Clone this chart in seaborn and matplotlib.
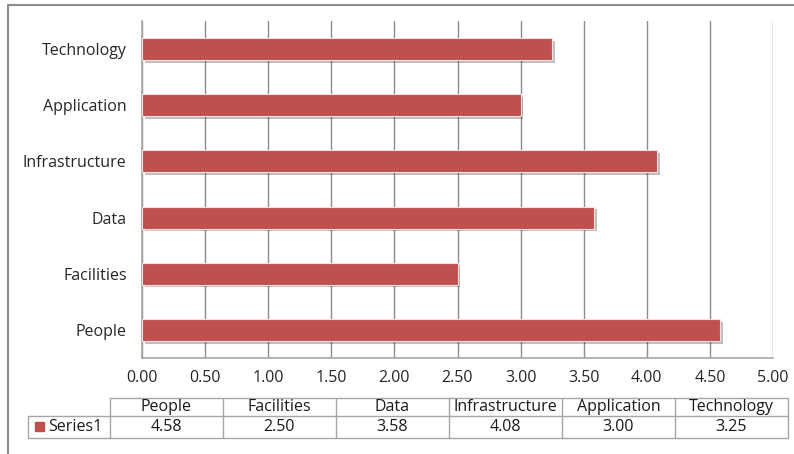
import numpy as np
import pandas as pd
import matplotlib
matplotlib.use("Agg")
import matplotlib.pyplot as plt
import matplotlib.patheffects as pe
from matplotlib.patches import Rectangle
import seaborn as sns

# Chart data
categories = ["People", "Facilities", "Data", "Infrastructure", "Application", "Technology"]
values = [4.58, 2.50, 3.58, 4.08, 3.00, 3.25]
series_name = "Series1"
x_ticks = [0.0, 0.5, 1.0, 1.5, 2.0, 2.5, 3.0, 3.5, 4.0, 4.5, 5.0]

bar_color = "#C0504D"
grid_color = "#8c8c8c"
line_color = "#a6a6a6"
fs = 11.5

sns.set_style("white")
plt.rcParams["font.family"] = ["Open Sans", "DejaVu Sans"]
plt.rcParams["text.color"] = "#1a1a1a"

df = pd.DataFrame({"category": categories, "value": values})
order = categories[::-1]  # Technology on top, People at bottom

W, H = 794, 454
fig = plt.figure(figsize=(W / 100, H / 100), dpi=100)
ax = fig.add_axes([142 / W, 1 - 358 / H, (773 - 142) / W, (358 - 21) / H])

sns.barplot(data=df, x="value", y="category", order=order, color=bar_color,
            saturation=1, width=0.39, edgecolor="#f4e0df", linewidth=0.8, ax=ax)
for bar in ax.patches:
    bar.set_zorder(3)
    bar.set_path_effects([pe.SimplePatchShadow(offset=(2, -2), shadow_rgbFace="black", alpha=0.25),
                          pe.Normal()])

ax.set_xlim(0, 5)
ax.set_ylim(5.5, -0.5)
ax.set_xticks(x_ticks)
ax.set_xticklabels([f"{t:.2f}" for t in x_ticks])
ax.grid(axis="x", color=grid_color, linewidth=1)
ax.set_axisbelow(True)
ax.set_xlabel("")
ax.set_ylabel("")
ax.tick_params(axis="x", length=0, pad=9, labelsize=fs)
ax.tick_params(axis="y", length=0, pad=11, labelsize=fs)
for side in ["top", "right"]:
    ax.spines[side].set_visible(False)
for side in ["left", "bottom"]:
    ax.spines[side].set_color(line_color)
    ax.spines[side].set_linewidth(1.2)

# Data table below the chart, drawn in pixel space
tab = fig.add_axes([0, 0, 1, 1])
tab.set_xlim(0, W)
tab.set_ylim(H, 0)
tab.axis("off")

label_x0, col_x0, col_w = 28, 110, 113
row_top, row_mid, row_bot = 398, 416, 438
col_x1 = col_x0 + col_w * len(categories)

tab.plot([col_x0, col_x1], [row_top, row_top], color=line_color, lw=1)
tab.plot([label_x0, col_x1], [row_mid, row_mid], color=line_color, lw=1)
tab.plot([label_x0, col_x1], [row_bot, row_bot], color=line_color, lw=1)
tab.plot([label_x0, label_x0], [row_mid, row_bot], color=line_color, lw=1)
for i in range(len(categories) + 1):
    x = col_x0 + i * col_w
    tab.plot([x, x], [row_top, row_bot], color=line_color, lw=1)

for i, (cat, val) in enumerate(zip(categories, values)):
    cx = col_x0 + (i + 0.5) * col_w
    tab.text(cx, (row_top + row_mid) / 2, cat, ha="center", va="center", fontsize=fs)
    tab.text(cx, (row_mid + row_bot) / 2, f"{val:.2f}", ha="center", va="center", fontsize=fs)

tab.add_patch(Rectangle((35, 422), 9, 9, color=bar_color))
tab.text(48, (row_mid + row_bot) / 2, series_name, ha="left", va="center", fontsize=fs)

# Outer chart frame (only top/left visible in the crop)
tab.plot([8, W], [5, 5], color=grid_color, lw=1.5)
tab.plot([8, 8], [5, H], color=grid_color, lw=1.5)

fig.savefig("out.png", dpi=100)
